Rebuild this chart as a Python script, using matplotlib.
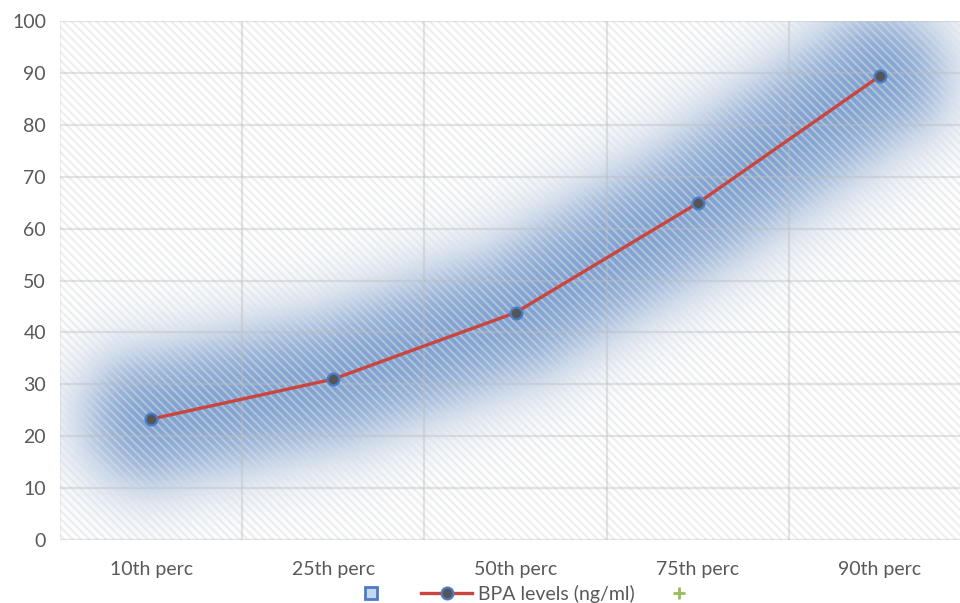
import numpy as np
import matplotlib
matplotlib.use("Agg")
import matplotlib.pyplot as plt
from matplotlib.patches import Rectangle
from matplotlib.lines import Line2D

categories = ["10th perc", "25th perc", "50th perc", "75th perc", "90th perc"]
bpa_levels = [23.3, 31.0, 43.8, 64.9, 89.4]
y_ticks = [0, 10, 20, 30, 40, 50, 60, 70, 80, 90, 100]
series_label = "BPA levels (ng/ml)"

plt.rcParams["font.family"] = ["Lato", "DejaVu Sans"]
plt.rcParams["hatch.linewidth"] = 1.5

W, H = 960, 603
fig = plt.figure(figsize=(W / 100, H / 100), dpi=100)
left, right, top, bottom = 60, 971, 21, 540
ax = fig.add_axes([left / W, 1 - bottom / H, (right - left) / W, (bottom - top) / H])

x = np.arange(len(categories))
ax.set_xlim(-0.5, len(categories) - 0.5)
ax.set_ylim(0, 100)
ax.set_facecolor("white")

# soft blue glow following the series
fig.canvas.draw()
pts = ax.transData.transform(np.column_stack([x, bpa_levels]))
nx, ny = 460, 270
gx = np.linspace(-0.5, len(categories) - 0.5, nx)
gy = np.linspace(0, 100, ny)
GX, GY = np.meshgrid(gx, gy)
P = ax.transData.transform(np.column_stack([GX.ravel(), GY.ravel()]))
d = np.full(P.shape[0], np.inf)
for a, b in zip(pts[:-1], pts[1:]):
    ab = b - a
    t = np.clip(((P - a) @ ab) / (ab @ ab), 0, 1)
    proj = a + t[:, None] * ab
    d = np.minimum(d, np.hypot(*(P - proj).T))
d = d.reshape(ny, nx)
alpha = 0.9 / (1 + np.exp((d - 64) / 19))
rgba = np.zeros((ny, nx, 4))
rgba[..., 0] = 0x6c / 255
rgba[..., 1] = 0x94 / 255
rgba[..., 2] = 0xcb / 255
rgba[..., 3] = alpha
ax.imshow(rgba, extent=(gx[0], gx[-1], 0, 100), origin="lower", aspect="auto",
          interpolation="bilinear", zorder=1)

# translucent hatched texture over the plot area
ax.add_patch(Rectangle((0, 0), 1, 1, transform=ax.transAxes, facecolor="none",
                       edgecolor=(0.87, 0.87, 0.87, 0.5), hatch="\\\\\\\\",
                       linewidth=0, zorder=2))

# gridlines on category boundaries and value ticks
grid_kw = dict(color=(0.74, 0.74, 0.74, 0.4), lw=1.6, zorder=3)
for xb in np.arange(0.5, len(categories) - 0.5, 1.0):
    ax.axvline(xb, **grid_kw)
for yv in y_ticks:
    ax.axhline(yv, **grid_kw)
ax.axvline(-0.5, color=(0.74, 0.74, 0.74, 0.3), lw=1.2, zorder=3)

ax.plot(x, bpa_levels, color="#c9463f", lw=2.4, zorder=4,
        marker="o", markersize=8.5, markerfacecolor="#555555",
        markeredgecolor="#4a7cc8", markeredgewidth=1.6)

for s in ax.spines.values():
    s.set_visible(False)
ax.set_xticks(x)
ax.set_xticklabels(categories)
ax.set_yticks(y_ticks)
ax.tick_params(length=0, labelsize=14, labelcolor="#595959")
ax.tick_params(axis="x", pad=15)
ax.tick_params(axis="y", pad=10)

handles = [
    Line2D([], [], ls="none", marker="s", markersize=8, markerfacecolor="#c6d6ec",
           markeredgecolor="#4a7cc8", markeredgewidth=2),
    Line2D([], [], color="#c9463f", lw=2.4, marker="o", markersize=8.5,
           markerfacecolor="#555555", markeredgecolor="#4a7cc8", markeredgewidth=1.6),
    Line2D([], [], ls="none", marker="+", markersize=8, markeredgecolor="#9bbb59",
           markeredgewidth=2),
]
fig.legend(handles, ["", series_label, ""], loc="center", ncol=3,
           bbox_to_anchor=(528 / W, 1 - 594 / H), frameon=False, fontsize=14,
           labelcolor="#595959", handlelength=2.6, handletextpad=0.3,
           columnspacing=1.0, borderpad=0, borderaxespad=0)

fig.savefig("out.png", dpi=100)
